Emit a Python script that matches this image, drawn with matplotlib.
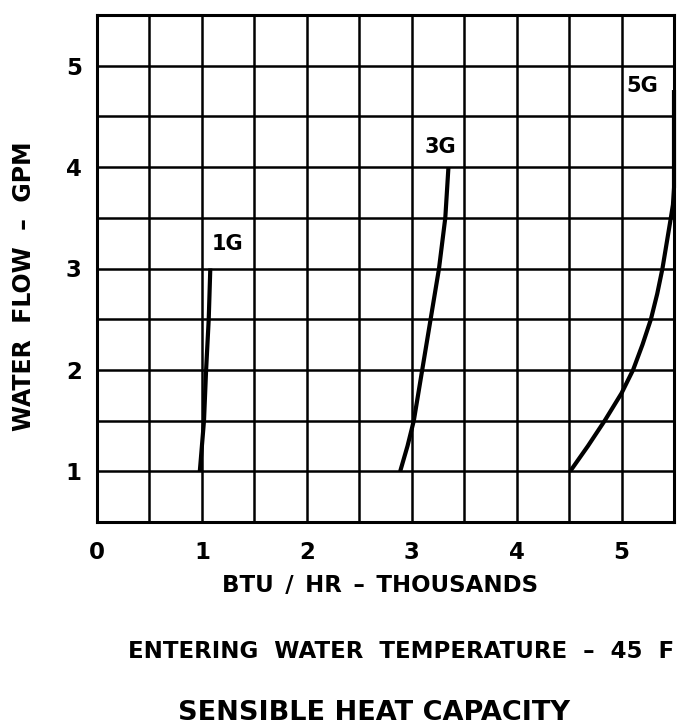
import matplotlib
matplotlib.use("Agg")
import matplotlib.pyplot as plt
import numpy as np

# Data (water flow GPM vs BTU/HR thousands)
flow_1g = [1.0, 1.5, 2.0, 2.5, 3.0]
btu_1g = [0.98, 1.02, 1.04, 1.065, 1.08]

flow_3g = [1.0, 1.25, 1.5, 1.75, 2.0, 2.5, 3.0, 3.5, 4.0]
btu_3g = [2.89, 2.96, 3.02, 3.06, 3.10, 3.18, 3.26, 3.32, 3.35]

flow_5g = [1.0, 1.25, 1.5, 1.77, 2.0, 2.25, 2.5, 2.75, 3.0, 3.25, 3.5, 3.63, 3.8, 4.76]
btu_5g = [4.51, 4.68, 4.84, 5.0, 5.11, 5.20, 5.28, 5.34, 5.39, 5.43, 5.47, 5.49, 5.5, 5.5]

curve_labels = ["1G", "3G", "5G"]
label_pos = [(1.24, 3.24), (3.27, 4.2), (5.2, 4.8)]

x_ticks = [0, 1, 2, 3, 4, 5]
y_ticks = [1, 2, 3, 4, 5]

plt.rcParams['font.family'] = ['DejaVu Sans']
FS = 16.5

fig = plt.figure(figsize=(6.8, 7.28), dpi=100)
ax = fig.add_axes([97/680, 1-522/728, (674-97)/680, (522-15)/728])

ax.set_xlim(0, 5.5)
ax.set_ylim(0.5, 5.5)

for xv in np.arange(0.5, 5.5, 0.5):
    ax.axvline(xv, color='black', lw=1.8, zorder=1)
for yv in np.arange(1.0, 5.5, 0.5):
    ax.axhline(yv, color='black', lw=1.8, zorder=1)

for s in ax.spines.values():
    s.set_linewidth(2.2)

for xs, ys in [(btu_1g, flow_1g), (btu_3g, flow_3g), (btu_5g, flow_5g)]:
    ax.plot(xs, ys, color='black', lw=3.0, solid_capstyle='butt',
            solid_joinstyle='round', zorder=3, clip_on=False)

for lab, (lx, ly) in zip(curve_labels, label_pos):
    ax.text(lx, ly, lab, ha='center', va='center', fontsize=15, fontweight='bold',
            zorder=4, bbox=dict(facecolor='white', edgecolor='none', pad=1.0))

ax.set_xticks(x_ticks)
ax.set_yticks(y_ticks)
ax.set_xticklabels([str(t) for t in x_ticks], fontsize=FS, fontweight='bold')
ax.set_yticklabels([str(t) for t in y_ticks], fontsize=FS, fontweight='bold')
ax.tick_params(axis='x', length=0, pad=14)
ax.tick_params(axis='y', length=0, pad=11)

fig.text(380/680, 1-585/728, "BTU\u2002/\u2002HR\u2002–\u2002THOUSANDS", ha='center', va='center',
         fontsize=FS, fontweight='bold')
fig.text(24/680, 1-286/728, "WATER  FLOW  –  GPM", ha='center', va='center', rotation=90,
         fontsize=17, fontweight='bold')

fig.text(401/680, 1-652/728, "ENTERING  WATER  TEMPERATURE  –  45  F", ha='center', va='center',
         fontsize=FS, fontweight='bold')
fig.text(374/680, 1-713/728, "SENSIBLE HEAT CAPACITY", ha='center', va='center',
         fontsize=19.5, fontweight='bold')

fig.savefig("out.png", dpi=100)
